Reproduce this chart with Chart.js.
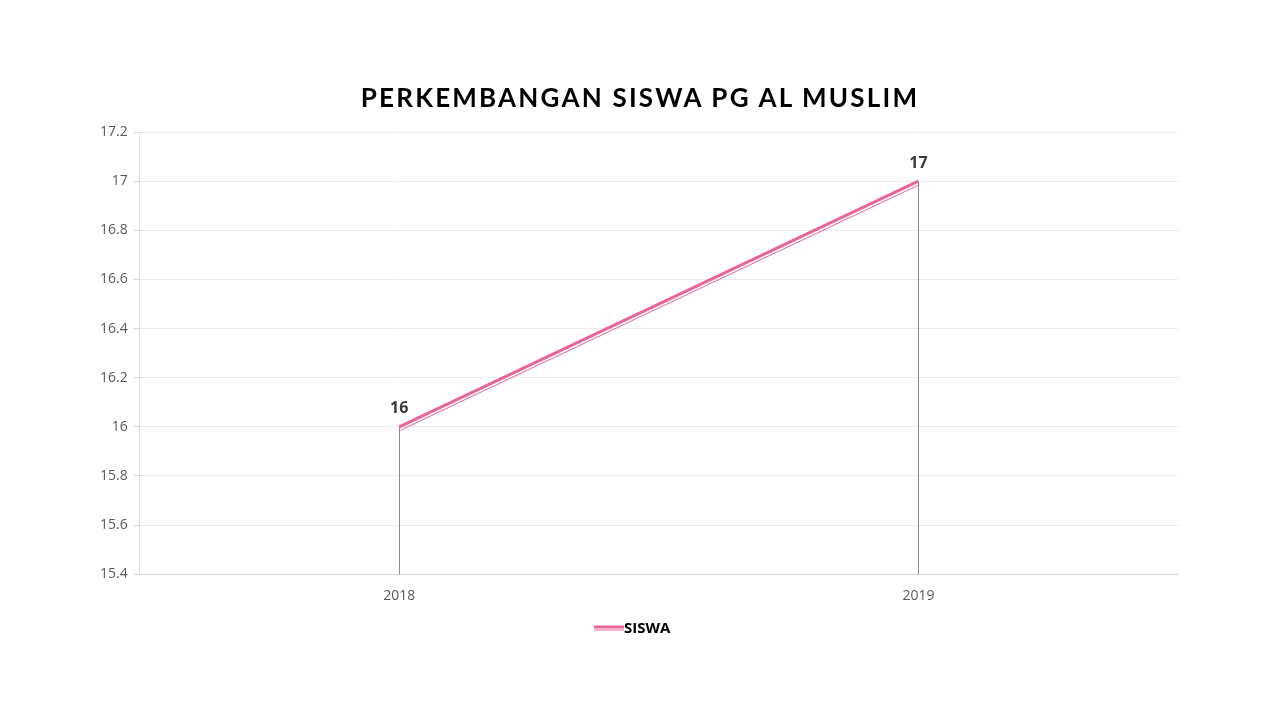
<!DOCTYPE html>
<html>
<head>
<meta charset="utf-8">
<script src="https://cdn.jsdelivr.net/npm/chart.js@4.4.0/dist/chart.umd.min.js"></script>
<style>
  html, body { margin: 0; padding: 0; background: #fff; }
  #wrap { position: relative; width: 1280px; height: 720px; }
  #title {
    position: absolute; left: 0; top: 81px; width: 1280px; text-align: center;
    font-family: Lato, "Open Sans", sans-serif; font-weight: 700; font-size: 26px;
    letter-spacing: 2.2px; color: #000;
  }
  #chart { position: absolute; left: 0; top: 0; }
</style>
</head>
<body>
<div id="wrap">
  <canvas id="chart" width="1280" height="720"></canvas>
  <div id="title">PERKEMBANGAN SISWA PG AL MUSLIM</div>
</div>
<script>
const years = ['2018', '2019'];
const siswa = [16, 17];
const yTicks = [15.4, 15.6, 15.8, 16, 16.2, 16.4, 16.6, 16.8, 17, 17.2];

const pink = '#e9649a';

// legend sample: thick line with a thin one under it
function legendLine() {
    const c = document.createElement('canvas');
    c.width = 30; c.height = 8;
    const g = c.getContext('2d');
    g.fillStyle = pink;
    g.fillRect(0, 1, 30, 3);
    g.fillRect(0, 5, 30, 1);
    return c;
}

const extras = {
    id: 'extras',
    beforeDatasetsDraw(chart) {
        const ctx = chart.ctx;
        const y = chart.scales.y;
        const pts = chart.getDatasetMeta(0).data;
        ctx.save();
        ctx.strokeStyle = '#8c8c8c';
        ctx.lineWidth = 1;
        pts.forEach(p => {
            const x = Math.round(p.x) + 0.5;
            ctx.beginPath();
            ctx.moveTo(x, p.y);
            ctx.lineTo(x, y.bottom);
            ctx.stroke();
        });
        ctx.restore();
    },
    afterDatasetsDraw(chart) {
        const ctx = chart.ctx;
        const pts = chart.getDatasetMeta(0).data;
        ctx.save();
        // thin second stroke
        ctx.strokeStyle = pink;
        ctx.lineWidth = 1;
        ctx.beginPath();
        pts.forEach((p, i) => {
            if (i === 0) ctx.moveTo(p.x + 1, p.y + 3.5);
            else ctx.lineTo(p.x + 1, p.y + 3.5);
        });
        ctx.stroke();
        // value labels
        ctx.fillStyle = '#3a3a3a';
        ctx.font = 'bold 16px "Open Sans", sans-serif';
        ctx.textAlign = 'center';
        ctx.textBaseline = 'bottom';
        pts.forEach((p, i) => {
            ctx.fillText(String(siswa[i]), p.x, p.y - 10);
        });
        ctx.restore();
    }
};

new Chart(document.getElementById('chart'), {
    type: 'line',
    data: {
        labels: years,
        datasets: [{
            label: 'SISWA',
            data: siswa,
            borderColor: pink,
            backgroundColor: pink,
            borderWidth: 3,
            pointRadius: 0,
            tension: 0
        }]
    },
    options: {
        responsive: false,
        animation: false,
        devicePixelRatio: 1,
        layout: { padding: { top: 132, left: 94, right: 102, bottom: 74 } },
        plugins: {
            title: { display: false },
            tooltip: { enabled: false },
            legend: {
                position: 'bottom',
                labels: {
                    usePointStyle: true,
                    pointStyle: legendLine(),
                    color: '#000',
                    font: { family: '"Open Sans", sans-serif', size: 15, weight: 'bold' },
                    padding: 4
                }
            }
        },
        scales: {
            x: {
                offset: true,
                grid: { display: false, drawTicks: false },
                border: { color: '#d4d4d4' },
                ticks: {
                    color: '#595959',
                    font: { family: '"Open Sans", sans-serif', size: 14 },
                    padding: 13
                }
            },
            y: {
                min: 15.4,
                max: 17.2,
                afterBuildTicks(axis) {
                    axis.ticks = yTicks.map(v => ({ value: v }));
                },
                grid: { color: '#ececec', tickLength: 6, tickColor: '#d4d4d4' },
                border: { color: '#e0e0e0' },
                ticks: {
                    color: '#595959',
                    font: { family: '"Open Sans", sans-serif', size: 14 },
                    padding: 6,
                    callback: v => String(Math.round(v * 10) / 10)
                }
            }
        }
    },
    plugins: [extras]
});
</script>
</body>
</html>
